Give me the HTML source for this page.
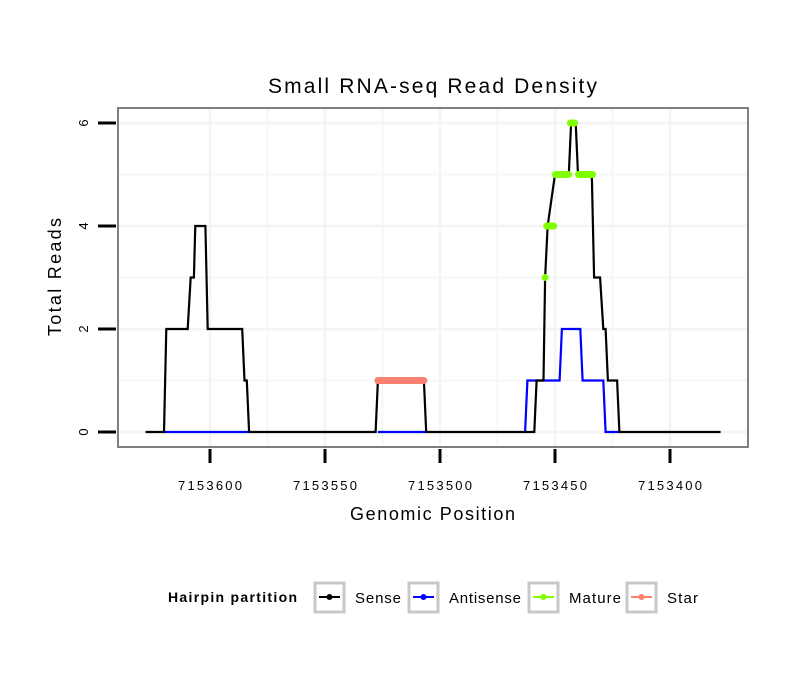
<!DOCTYPE html>
<html><head><meta charset="utf-8"><style>
body{margin:0;background:#fff}
svg{display:block;font-family:"Liberation Sans",sans-serif}
</style></head><body>
<svg id="chart" width="810" height="690" viewBox="0 0 810 690">
<text x="268" y="93" font-size="21" textLength="329" lengthAdjust="spacing">Small RNA-seq Read Density</text>
<rect x="118" y="108" width="630" height="339" fill="#fff" stroke="#7f7f7f" stroke-width="2"/>
<g id="grid"></g>
<g id="series"></g>
<g id="axes"></g>
<text x="350" y="520" font-size="18" textLength="165" lengthAdjust="spacing">Genomic Position</text>
<text transform="translate(61,336) rotate(-90)" font-size="18" textLength="118" lengthAdjust="spacing">Total Reads</text>
<g>
<text x="168" y="602" font-size="14" font-weight="bold" textLength="129" lengthAdjust="spacing">Hairpin partition</text>
<g><rect x="315" y="583" width="29" height="29" fill="#fff" stroke="#c8c8c8" stroke-width="3"/><line x1="319" y1="597" x2="340" y2="597" stroke="#000" stroke-width="2"/><circle cx="329.5" cy="597" r="3" fill="#000"/><text x="355" y="603" font-size="15" textLength="46" lengthAdjust="spacing">Sense</text></g>
<g><rect x="409" y="583" width="29" height="29" fill="#fff" stroke="#c8c8c8" stroke-width="3"/><line x1="413" y1="597" x2="434" y2="597" stroke="#00f" stroke-width="2"/><circle cx="423.5" cy="597" r="3" fill="#00f"/><text x="449" y="603" font-size="15" textLength="72" lengthAdjust="spacing">Antisense</text></g>
<g><rect x="529" y="583" width="29" height="29" fill="#fff" stroke="#c8c8c8" stroke-width="3"/><line x1="533" y1="597" x2="554" y2="597" stroke="#7fff00" stroke-width="2"/><circle cx="543.5" cy="597" r="3" fill="#7fff00"/><text x="569" y="603" font-size="15" textLength="52" lengthAdjust="spacing">Mature</text></g>
<g><rect x="627" y="583" width="29" height="29" fill="#fff" stroke="#c8c8c8" stroke-width="3"/><line x1="631" y1="597" x2="652" y2="597" stroke="#fa8072" stroke-width="2"/><circle cx="641.5" cy="597" r="3" fill="#fa8072"/><text x="667" y="603" font-size="15" textLength="31" lengthAdjust="spacing">Star</text></g>
</g>
</svg>
<script>
const xTicks=[7153600,7153550,7153500,7153450,7153400];
const yTicks=[0,2,4,6];
const sensePos=[7153628,7153620,7153619,7153609.7,7153608.4,7153607,7153606.4,7153602,7153601,7153586,7153585,7153584,7153583,7153528,7153527,7153507,7153506,7153459,7153458,7153455,7153454.3,7153453.2,7153450,7153444,7153443,7153441,7153440,7153434,7153433,7153430.4,7153429,7153428,7153427,7153423,7153422,7153378];
const senseVal=[0,0,2,2,3,3,4,4,2,2,1,1,0,0,1,1,0,0,1,1,3,4,5,5,6,6,5,5,3,3,2,2,1,1,0,0];
const antiPos=[7153620,7153583,null,7153527,7153506,null,7153463,7153462,7153448,7153447,7153439,7153438,7153429,7153428,7153422];
const antiVal=[0,0,null,0,0,null,0,1,1,2,2,1,1,0,0];
const matureStart=[7153454.3,7153453.6,7153449.8,7153443.3,7153439.8];
const matureEnd=[7153454.3,7153450.6,7153444.1,7153441.5,7153433.7];
const matureVal=[3,4,5,6,5];
const starStart=[7153527];
const starEnd=[7153507];
const starVal=[1];

const X=p=>210+(7153600-p)*2.3;
const Y=v=>432-v*51.5;
const NS='http://www.w3.org/2000/svg';
function mk(tag,parent,attrs){const e=document.createElementNS(NS,tag);for(const k in attrs)e.setAttribute(k,attrs[k]);parent.appendChild(e);return e;}
const grid=document.getElementById('grid'),ser=document.getElementById('series'),ax=document.getElementById('axes');
[...xTicks,7153575,7153525,7153475,7153425].forEach(t=>{const x=X(t);if(x>119&&x<747){const g=mk('line',grid,{x1:x,x2:x,y1:109,y2:446,stroke:'#f4f4f4','stroke-width':xTicks.includes(t)?2.5:1.5});

}});
[0,1,2,3,4,5,6].forEach(v=>{const y=Y(v);const g=mk('line',grid,{x1:119,x2:747,y1:y,y2:y,stroke:'#f4f4f4','stroke-width':v%2?1.5:2.5});

});
xTicks.forEach(t=>{const x=X(t);const l=mk('line',ax,{x1:x,x2:x,y1:449,y2:463,stroke:'#000','stroke-width':3});


const tx=mk('text',ax,{x:x-32,y:490,'font-size':13,textLength:64,lengthAdjust:'spacing'});tx.textContent=t;

});
yTicks.forEach(v=>{const y=Y(v);const l=mk('line',ax,{x1:98,x2:116,y1:y,y2:y,stroke:'#000','stroke-width':3});


const tx=mk('text',ax,{transform:`translate(88,${y}) rotate(-90)`,'font-size':13,'text-anchor':'middle'});tx.textContent=v;

});
function path(pos,val){let d='',m=true;pos.forEach((p,i)=>{if(p===null){m=true;return;}d+=(m?'M':'L')+X(p)+','+Y(val[i]);m=false;});return d;}
const ap=mk('path',ser,{d:path(antiPos,antiVal),fill:'none',stroke:'#00f','stroke-width':2.2});


const sp=mk('path',ser,{d:path(sensePos,senseVal),fill:'none',stroke:'#000','stroke-width':2.2});


function segs(s,e,v,color,name){s.forEach((p,i)=>{const l=mk('line',ser,{x1:X(p),x2:X(e[i]),y1:Y(v[i]),y2:Y(v[i]),stroke:color,'stroke-width':7,'stroke-linecap':'round'});

});}
segs(starStart,starEnd,starVal,'#fa8072','star-segment');
segs(matureStart,matureEnd,matureVal,'#7fff00','mature-segment');
</script>
</body></html>
